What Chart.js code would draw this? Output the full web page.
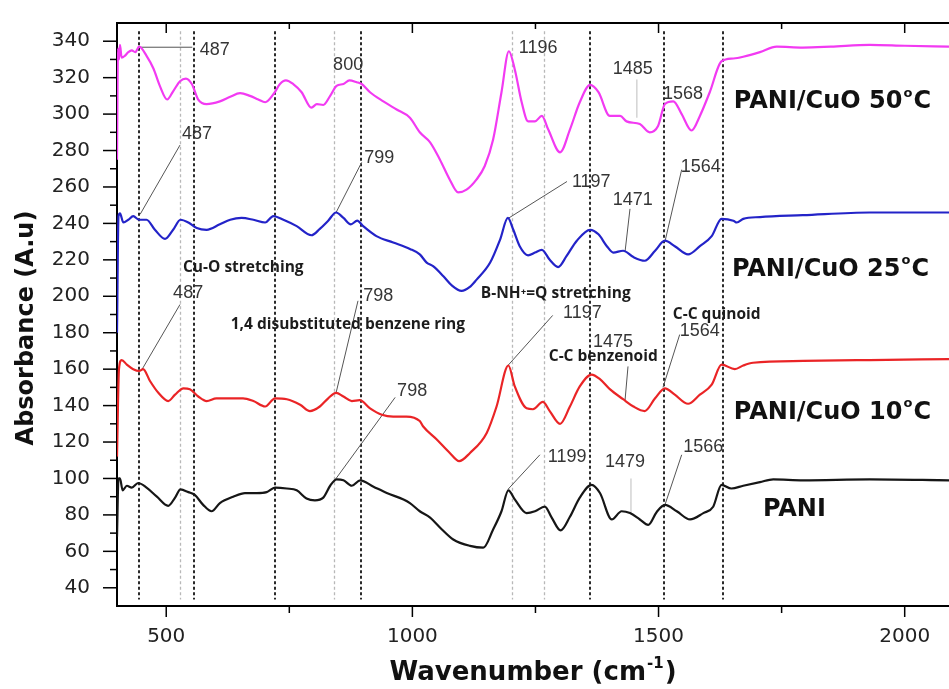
<!DOCTYPE html>
<html><head><meta charset="utf-8">
<script src="https://cdn.jsdelivr.net/npm/chart.js@4.4.0/dist/chart.umd.min.js"></script>
<style>html,body{margin:0;padding:0;background:#fff;}#wrap{width:949px;height:689px;}</style>
</head><body><div id="wrap"><canvas id="c" width="949" height="689"></canvas></div>
<script>
// ---- data (wavenumber in cm-1, absorbance in A.u) ----
const cuo50Wn = [400,402,404,406,409.5,416,423,430,437,445,460,474,487,502,514,528,540,552,565,582,609,630,650,670,687,701,718,731,743,758,775,795,806,819,833,846,860,872,887,897,914,941,968,995,1015,1036,1056,1076,1093,1110,1130,1147,1164,1181,1196,1208,1222,1235,1249,1263,1276,1300,1320,1340,1361,1378,1401,1422,1435,1462,1482,1499,1513,1530,1547,1567,1584,1604,1628,1652,1672,1706,1740,1793,1850,1929,2000,2090];
const cuo50Abs = [275,336,330,338,331,332,334,335,334,337,332,325,315.5,308,312.5,318,319.5,316.5,308,305.5,307,309.5,311.5,310,308,306.5,311,316.5,318.5,316.5,312,303.5,305.5,305,310,315.5,316.5,318.5,317.5,316.5,312,307,302.5,298,290,284.5,275,264,257,258.5,264,271.5,286,312,334.5,324.5,306.5,296,296,299,291.5,279,291.5,306.5,316,312,299,299,296,294.5,290,293.5,305.5,307,300,291,299,312,329,330.5,331.5,334,337,336.5,337,338,337.5,337];

const cuo25Wn = [400,403,406,413,423,433,445,460,477,497.5,514,529,545,562,582,609,630,653,677,701,717.5,738,765,795,812,829,845,860,875,888,900,927,961,995,1015,1029,1042,1063,1080,1100,1116,1130,1158,1178,1194,1205,1218,1235,1249,1263,1279,1296,1313,1334,1361,1378,1395,1408,1428,1449,1472,1493,1513,1533,1560,1584,1608,1628,1652,1659,1672,1706,1793,1929,2090];
const cuo25Abs = [180,244,245.5,240.5,242,244,242,242,236.5,231.5,236.5,242,240.5,237.5,236.5,239.5,242,243,242,240.5,244,242,238.5,233.5,237,241.5,246,243,239.5,241.5,238.5,233,229.5,226,223,218.5,216.5,211,206,203,205,209,218.5,231,243,236.5,227.5,222.5,224,225.5,220,216,222,230.5,236.5,234,227.5,224,225,221.5,219.5,225,230.5,227.5,223,227.5,233,242.5,241.5,240.5,242.5,243.5,244.5,246,246];

const cuo10Wn = [400,404,409.5,420,433,445,453,467,484,504,518,535,548,565,582,602,630,656,677,701,721,745,772,792,812,829,845,860,877,893,914,938,961,988,1015,1022,1049,1076,1095,1117,1151,1171,1195,1208,1232,1245,1265,1279,1300,1320,1340,1364,1381,1401,1428,1449,1472,1493,1513,1533,1560,1584,1608,1628,1655,1672,1692,1794,1929,2090];
const cuo10Abs = [112,160,165,162.5,160,159,160,153.5,147,142.5,146,149.5,149,145,142.5,144,144,144,142.5,139.5,144,143.5,140.5,137,139.5,144,147,145,142.5,143,138.5,135,134,134,131.5,128.5,121.5,114,109.5,114,125,139.5,162,150.5,138.5,138,142,137,130,139.5,150.5,157,154.5,149,143.5,139.5,137,144,149.5,146,141,146,151.5,162.5,160,162,163.5,164.5,165,165.5];

const paniWn = [400,403,406,411.5,420,430,443,460,481,504,518,529,545,558,575,592,609,636,660,684,704,721,745,765,785,802,819,833,846,860,877,894,921,948,982,995,1015,1036,1060,1083,1117,1144,1164,1181,1195,1208,1232,1249,1269,1283,1301,1320,1340,1364,1381,1405,1425,1442,1462,1479,1496,1513,1537,1564,1591,1611,1628,1648,1672,1706,1733,1794,1929,2090];
const paniAbs = [68,100,100,93.5,96,95,97.5,95,90,85,89.5,94,92.5,91,85.5,82,86.5,90,92,92,92.5,95,94.5,93.5,89,88,89.5,96,99.5,99,96,99,95.5,92,88.5,86.5,82,78.5,72,66.5,63,62,72,82,93.5,88.5,81,82,84.5,78.5,71.5,79,89.5,96.5,92,77.5,82,81,77.5,74.5,81.5,85.5,82,77.5,81,84.5,96.5,94.5,96,98,99.5,99,99.5,99];

const seriesNames = ['PANI/CuO 50', 'PANI/CuO 25', 'PANI/CuO 10', 'PANI'];
const xMajorTicks = [500, 1000, 1500, 2000];
const xMinorTicks = [750, 1250, 1750];
const yMajorTicks = [40,60,80,100,120,140,160,180,200,220,240,260,280,300,320,340];
const yMinorTicks = [50,70,90,110,130,150,170,190,210,230,250,270,290,310,330];
const darkRefLines = [445, 556, 721, 896, 1361, 1512, 1630];
const lightRefLines = [528, 841, 1203, 1268];

// peak labels: text, anchor x/y (data), leader from/to (data), light leader flag
const peakLabels = [
  ['487', 568, 335, [445,336.7,553,336.7], 0],
  ['800', 839, 327, null, 0],
  ['1196', 1216, 336.5, null, 0],
  ['1485', 1407, 324.5, [1456,319,1456,298], 1],
  ['1568', 1509, 311, null, 0],
  ['487', 532, 289, [447,245,528,283], 0],
  ['799', 902, 276, [845,246,897,273.5], 0],
  ['1197', 1324, 262.5, [1196,243,1314,263], 0],
  ['1471', 1407, 253, [1432,224.5,1442,248], 0],
  ['1564', 1545, 271, [1513,230,1547,269.5], 0],
  ['487', 514, 202, [449,159,528,195.5], 0],
  ['798', 900, 200, [845,147,889.5,197.5], 0],
  ['1197', 1306, 191, [1194,162,1285,189.5], 0],
  ['1475', 1367, 175, [1432,143,1438,161.5], 0],
  ['1564', 1543, 181, [1509,150,1543,179], 0],
  ['798', 969, 148, [845,100,965,144.5], 0],
  ['1199', 1275, 111.5, [1194,94,1259,113], 0],
  ['1479', 1391, 109, [1444,100,1444,81], 1],
  ['1566', 1550, 117, [1513,85.5,1547,113], 0]
];
const bandLabels = [
  ['Cu-O stretching', 534, 216],
  ['1,4 disubstituted benzene ring', 631, 184.5],
  ['B-NH\u207A=Q stretching', 1139, 201.5],
  ['C-C benzenoid', 1277, 167],
  ['C-C quinoid', 1529, 190]
];
const seriesLabelPos = [[1653, 306.5, true], [1649, 214.7, true], [1653, 136.2, true], [1712, 83, false]];

const colors = ['#f23af2', '#2323c8', '#ea2426', '#161616'];

function pts(xs, ys){ return xs.map((x,i)=>({x:x, y:ys[i]})); }

const overlay = {
  id: 'overlay',
  beforeDatasetsDraw(chart){
    const ctx = chart.ctx, X = chart.scales.x, Y = chart.scales.y;
    ctx.save();
    const yT = Y.getPixelForValue(345.5), yB = Y.getPixelForValue(33.5);
    ctx.setLineDash([3,2.5]);
    ctx.lineWidth = 1.3; ctx.strokeStyle = '#b8b8b8';
    lightRefLines.forEach(v=>{ const x = Math.round(X.getPixelForValue(v))+0.5; ctx.beginPath(); ctx.moveTo(x,yT); ctx.lineTo(x,yB); ctx.stroke(); });
    ctx.lineWidth = 2; ctx.strokeStyle = '#2a2a2a';
    darkRefLines.forEach(v=>{ const x = Math.round(X.getPixelForValue(v)); ctx.beginPath(); ctx.moveTo(x,yT); ctx.lineTo(x,yB); ctx.stroke(); });
    ctx.setLineDash([]);
    peakLabels.forEach(p=>{
      if(!p[3]) return;
      const l = p[3];
      ctx.strokeStyle = p[4] ? '#bdbdbd' : '#555';
      ctx.lineWidth = 1;
      ctx.beginPath();
      ctx.moveTo(X.getPixelForValue(l[0]), Y.getPixelForValue(l[1]));
      ctx.lineTo(X.getPixelForValue(l[2]), Y.getPixelForValue(l[3]));
      ctx.stroke();
    });
    ctx.restore();
  },
  afterDraw(chart){
    const ctx = chart.ctx, X = chart.scales.x, Y = chart.scales.y, a = chart.chartArea;
    ctx.save();
    // top frame line
    ctx.strokeStyle = '#000'; ctx.lineWidth = 2;
    ctx.beginPath(); ctx.moveTo(a.left-1, a.top); ctx.lineTo(a.right, a.top); ctx.stroke();
    // tick marks
    ctx.lineWidth = 1.5;
    const tick = (x1,y1,x2,y2)=>{ ctx.beginPath(); ctx.moveTo(x1,y1); ctx.lineTo(x2,y2); ctx.stroke(); };
    xMajorTicks.forEach(v=>{ const x = X.getPixelForValue(v); tick(x,a.bottom,x,a.bottom+11); tick(x,a.top,x,a.top+10); });
    xMinorTicks.forEach(v=>{ const x = X.getPixelForValue(v); tick(x,a.bottom,x,a.bottom+7); tick(x,a.top,x,a.top+6); });
    yMajorTicks.forEach(v=>{ const y = Y.getPixelForValue(v); tick(a.left-14,y,a.left,y); });
    yMinorTicks.forEach(v=>{ const y = Y.getPixelForValue(v); tick(a.left-7,y,a.left,y); });
    // peak numbers
    ctx.fillStyle = '#353535'; ctx.font = '18px "Liberation Sans", Arial, sans-serif';
    ctx.textAlign = 'left'; ctx.textBaseline = 'middle';
    peakLabels.forEach(p=>{ ctx.fillText(p[0], X.getPixelForValue(p[1]), Y.getPixelForValue(p[2])); });
    // band labels
    ctx.fillStyle = '#1c1c1c'; ctx.font = 'bold 15.5px "Open Sans", sans-serif';
    bandLabels.forEach(b=>{ ctx.fillText(b[0], X.getPixelForValue(b[1]), Y.getPixelForValue(b[2])); });
    // series labels
    ctx.fillStyle = '#111';
    seriesLabelPos.forEach((s,i)=>{
      let x = X.getPixelForValue(s[0]); const y = Y.getPixelForValue(s[1]);
      ctx.textBaseline = 'middle';
      ctx.font = 'bold 24px "DejaVu Sans", sans-serif';
      ctx.fillText(seriesNames[i], x, y);
      x += ctx.measureText(seriesNames[i]).width;
      if(s[2]){
        ctx.font = 'bold 13px "DejaVu Sans", sans-serif';
        ctx.fillText('o', x+1, y-9);
        x += ctx.measureText('o').width + 2;
        ctx.font = 'bold 24px "DejaVu Sans", sans-serif';
        ctx.fillText('C', x, y);
      }
    });
    // x title
    ctx.textBaseline = 'alphabetic';
    const t1 = 'Wavenumber (cm', t2 = '-1', t3 = ')';
    ctx.font = 'bold 15px "DejaVu Sans", sans-serif';
    const w2 = ctx.measureText(t2).width;
    ctx.font = 'bold 26px "DejaVu Sans", sans-serif';
    const w1 = ctx.measureText(t1).width, w3 = ctx.measureText(t3).width;
    let xs = 533 - (w1+w2+w3+2)/2; const yb = 680;
    ctx.fillText(t1, xs, yb); xs += w1 + 1;
    ctx.font = 'bold 15px "DejaVu Sans", sans-serif';
    ctx.fillText(t2, xs, yb-12); xs += w2 + 1;
    ctx.font = 'bold 26px "DejaVu Sans", sans-serif';
    ctx.fillText(t3, xs, yb);
    // y title
    ctx.translate(33, 328); ctx.rotate(-Math.PI/2);
    ctx.font = 'bold 24px "DejaVu Sans", sans-serif'; ctx.textAlign = 'center';
    ctx.fillText('Absorbance (A.u)', 0, 0);
    ctx.restore();
  }
};

const mk = (label, xs, ys, c)=>({label, data: pts(xs, ys), borderColor: c, backgroundColor: c, borderWidth: 2.2, pointRadius: 0, showLine: true, cubicInterpolationMode: 'monotone', fill: false});

new Chart(document.getElementById('c'), {
  type: 'scatter',
  data: { datasets: [
    mk(seriesNames[0], cuo50Wn, cuo50Abs, colors[0]),
    mk(seriesNames[1], cuo25Wn, cuo25Abs, colors[1]),
    mk(seriesNames[2], cuo10Wn, cuo10Abs, colors[2]),
    mk(seriesNames[3], paniWn, paniAbs, colors[3])
  ]},
  options: {
    responsive: false, animation: false, devicePixelRatio: 1,
    layout: { padding: { top: 23, right: 0, left: 0, bottom: 0 } },
    plugins: { legend: { display: false }, tooltip: { enabled: false } },
    scales: {
      x: { type: 'linear', min: 400, max: 2090,
        afterBuildTicks: s => { s.ticks = xMajorTicks.map(v=>({value:v})); },
        afterFit: s => { s.height = 83; s.paddingLeft = 0; s.paddingRight = 0; },
        ticks: { font: { family: 'DejaVu Sans', size: 20 }, color: '#222', padding: 11, maxRotation: 0, autoSkip: false, callback: v => String(v) },
        grid: { display: false }, border: { display: true, width: 2, color: '#000' } },
      y: { type: 'linear', min: 30, max: 350,
        afterBuildTicks: s => { s.ticks = yMajorTicks.map(v=>({value:v})); },
        afterFit: s => { s.width = 117; s.paddingTop = 0; s.paddingBottom = 0; },
        ticks: { font: { family: 'DejaVu Sans', size: 20 }, color: '#222', padding: 19, autoSkip: false, callback: v => String(v) },
        grid: { display: false }, border: { display: true, width: 2, color: '#000' } }
    }
  },
  plugins: [overlay]
});
</script></body></html>
